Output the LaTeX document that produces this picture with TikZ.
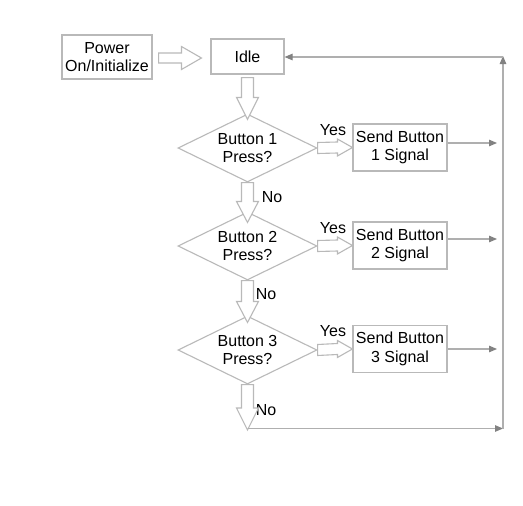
\documentclass[tikz,border=0pt]{standalone}
\usepackage{fontspec}
\setmainfont{Liberation Sans}
\usetikzlibrary{shapes.geometric,arrows.meta,calc}
\definecolor{bord}{RGB}{185,185,185}
\definecolor{lnc}{RGB}{175,175,175}
\definecolor{tipc}{RGB}{130,130,130}
\newcommand{\BlockDown}[5]{% start, tip, shaft half, head half, head length
  \filldraw[blk] ($(#1)+(-#3,0)$) -- ($(#2)+(-#3,-#5)$) -- ($(#2)+(-#4,-#5)$) -- (#2)
   -- ($(#2)+(#4,-#5)$) -- ($(#2)+(#3,-#5)$) -- ($(#1)+(#3,0)$) -- cycle;}
\newcommand{\BlockRight}[5]{%
  \filldraw[blk] ($(#1)+(0,-#3)$) -- ($(#2)+(-#5,-#3)$) -- ($(#2)+(-#5,-#4)$) -- (#2)
   -- ($(#2)+(-#5,#4)$) -- ($(#2)+(-#5,#3)$) -- ($(#1)+(0,#3)$) -- cycle;}
\begin{document}
\begin{tikzpicture}[x=1pt,y=-1pt,
  txt/.style={font=\fontsize{16}{18.5}\selectfont},
  box/.style={txt,draw=bord,line width=1.1pt,align=center,inner sep=0pt},
  dec/.style={txt,draw=bord,line width=1.1pt,diamond,aspect=2,align=center,inner sep=0pt,
     minimum width=139,minimum height=68},
  blk/.style={draw=bord,fill=white,line width=1.1pt,line join=miter},
  flow/.style={draw=lnc,line width=1.1pt,-{Triangle[length=8pt,width=6.5pt,fill=tipc,color=tipc]}},
  lbl/.style={txt,inner sep=0pt}]
\useasboundingbox (0,0) rectangle (523,506);
\fill[white] (0,0) rectangle (523,506);
% nodes
\node[box,minimum width=90,minimum height=44] (pw) at (107,57) {Power\\On/Initialize};
\node[box,minimum width=73,minimum height=35] (idle) at (247.5,56.5) {Idle};
\node[dec] (d1) at (247.5,148) {Button 1\\Press?};
\node[dec] (d2) at (247.5,246) {Button 2\\Press?};
\node[dec] (d3) at (247.5,350) {Button 3\\Press?};
\node[box,minimum width=94,minimum height=47] (s1) at (400,147.5) {Send Button\\1 Signal};
\node[box,minimum width=94,minimum height=47] (s2) at (400,245.5) {Send Button\\2 Signal};
\node[box,minimum width=94,minimum height=47] (s3) at (400,349) {Send Button\\3 Signal};
% labels
\node[lbl] (y1) at (333,130) {Yes};
\node[lbl] (y2) at (333,228) {Yes};
\node[lbl] (y3) at (333,331) {Yes};
\node[lbl] (n1) at (272,197) {No};
\node[lbl] (n2) at (266,294) {No};
\node[lbl] (n3) at (266,410) {No};
% coordinates
\coordinate (a0s) at ($(pw.east)+(6,1)$);
\coordinate (a0t) at ($(idle.west)+(-9,1.5)$);
\coordinate (a1s) at ($(idle.south)+(0,3)$);
\coordinate (a1t) at ($(d1.north)+(0,6)$);
\coordinate (a2s) at (d1.south);
\coordinate (a2t) at ($(d2.north)+(0,11)$);
\coordinate (a3s) at (d2.south);
\coordinate (a3t) at ($(d3.north)+(0,7)$);
\coordinate (a4s) at (d3.south);
\coordinate (a4t) at (247.5,430);
% block arrows
\BlockRight{a0s}{a0t}{5}{11.5}{20}
\BlockDown{a1s}{a1t}{6}{11}{22}
\BlockDown{a2s}{a2t}{6}{11}{21}
\BlockDown{a3s}{a3t}{6}{11}{21}
\BlockDown{a4s}{a4t}{6}{11}{22}
\coordinate (ys1) at (d1.east); \coordinate (yt1) at (s1.west);
\coordinate (ys2) at (d2.east); \coordinate (yt2) at (s2.west);
\coordinate (ys3) at (d3.east); \coordinate (yt3) at (s3.west);
\BlockRight{ys1}{yt1}{5.5}{8.5}{15}
\BlockRight{ys2}{yt2}{5.5}{8.5}{15}
\BlockRight{ys3}{yt3}{5.5}{8.5}{15}
% output arrows
\coordinate (o1) at (497,143);
\coordinate (o2) at (497,239);
\coordinate (o3) at (497,349);
\draw[flow] (s1.east |- o1) -- (o1);
\draw[flow] (s2.east |- o2) -- (o2);
\draw[flow] (s3.east |- o3) -- (o3);
% loop back
\coordinate (lb) at (248,428.5);
\coordinate (rb) at (503,428.5);
\coordinate (rt) at (503,57);
\draw[flow] (lb) -- (rb);
\draw[flow,shorten >=-1pt] (rb) -- (rt);
\draw[flow] (rt) -- (idle.east |- rt);
\end{tikzpicture}
\end{document}
